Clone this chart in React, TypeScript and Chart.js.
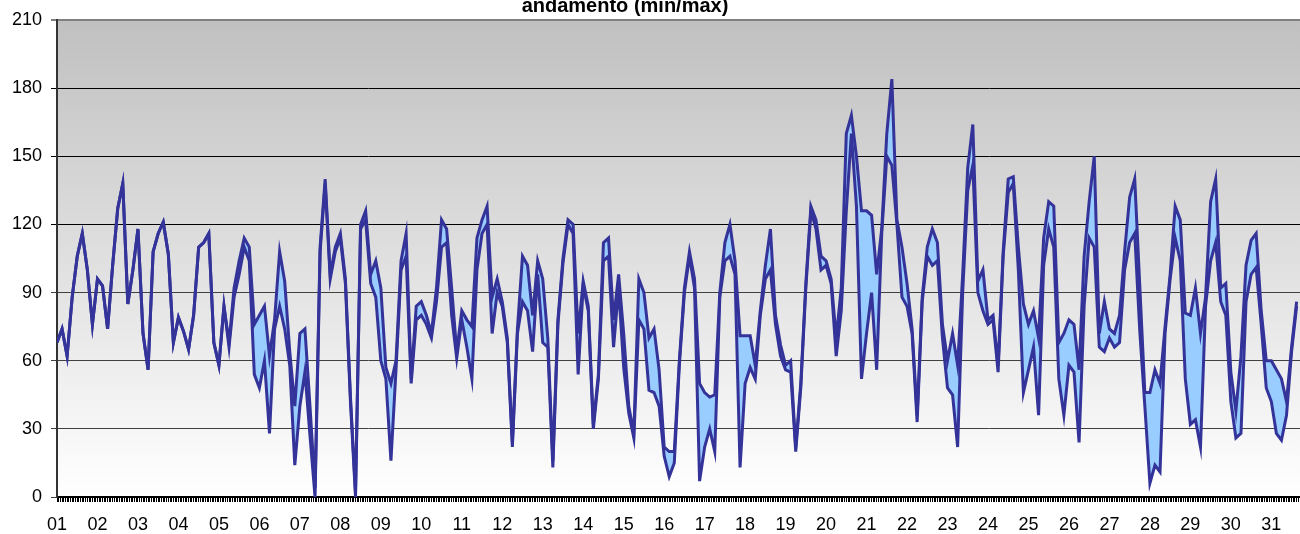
import { useEffect, useRef } from 'react';
import { Chart, registerables } from 'chart.js';

Chart.register(...registerables);

const TITLE = 'andamento (min/max)';

const dayLabels = [
  '01', '02', '03', '04', '05', '06', '07', '08', '09', '10',
  '11', '12', '13', '14', '15', '16', '17', '18', '19', '20',
  '21', '22', '23', '24', '25', '26', '27', '28', '29', '30', '31',
];

const yTickValues = [0, 30, 60, 90, 120, 150, 180, 210];

// one sample every 3 hours, starting at day 01 00:00
const SAMPLE_STEP_HOURS = 3;
const TOTAL_HOURS = 737;

const maxValues = [
  68, 74, 62, 88, 106, 116, 100, 76,
  96, 93, 74, 102, 127, 138, 85, 100,
  118, 72, 56, 108, 116, 121, 107, 68,
  79, 73, 65, 80, 110, 112, 116, 68,
  58, 84, 68, 92, 104, 114, 110, 76,
  80, 84, 62, 78, 108, 95, 64, 40,
  72, 74, 40, 4, 110, 140, 98, 110,
  116, 96, 44, 2, 120, 126, 98, 104,
  92, 57, 50, 60, 104, 116, 52, 84,
  86, 80, 72, 92, 122, 118, 92, 64,
  82, 78, 75, 114, 122, 128, 88, 96,
  86, 70, 24, 74, 106, 102, 80, 104,
  96, 70, 16, 78, 105, 122, 120, 72,
  95, 84, 32, 54, 112, 114, 78, 98,
  72, 40, 28, 96, 90, 70, 74, 56,
  22, 20, 20, 60, 92, 108, 96, 50,
  46, 44, 45, 90, 112, 120, 104, 71,
  71, 71, 58, 82, 102, 118, 80, 67,
  58, 60, 22, 50, 94, 128, 122, 106,
  104, 96, 70, 92, 160, 168, 150, 126,
  126, 124, 98, 118, 160, 184, 122, 110,
  94, 74, 36, 88, 110, 118, 112, 76,
  60, 72, 58, 98, 145, 164, 95, 100,
  78, 80, 58, 108, 140, 141, 110, 85,
  76, 82, 70, 114, 130, 128, 68, 72,
  78, 76, 56, 106, 130, 150, 72, 86,
  74, 72, 80, 108, 132, 140, 93, 46,
  46, 56, 50, 75, 98, 128, 122, 81,
  80, 92, 72, 88, 130, 140, 92, 94,
  55, 38, 62, 102, 113, 116, 82, 60,
  60, 56, 52, 42, 66, 86,
];

const minValues = [
  68, 74, 62, 88, 106, 116, 100, 76,
  96, 93, 74, 102, 127, 138, 85, 100,
  118, 72, 56, 108, 116, 121, 107, 68,
  79, 73, 65, 80, 110, 112, 116, 68,
  58, 84, 66, 88, 98, 110, 104, 54,
  48, 60, 28, 74, 84, 74, 58, 14,
  40, 55, 27, 0, 108, 138, 96, 108,
  114, 94, 42, 0, 118, 122, 94, 88,
  60, 52, 16, 56, 100, 106, 50, 78,
  80, 76, 70, 86, 110, 112, 80, 61,
  78, 66, 52, 100, 116, 120, 72, 90,
  84, 68, 22, 72, 86, 82, 64, 98,
  68, 66, 13, 76, 103, 120, 116, 54,
  93, 82, 30, 52, 104, 106, 66, 92,
  57, 37, 26, 78, 74, 47, 46, 40,
  18, 9, 15, 58, 90, 106, 92, 7,
  22, 30, 20, 88, 104, 106, 98, 13,
  50, 57, 52, 80, 96, 100, 76, 62,
  56, 55, 20, 48, 92, 126, 118, 100,
  102, 94, 62, 82, 126, 160, 128, 52,
  72, 90, 56, 116, 150, 146, 120, 88,
  84, 72, 33, 86, 106, 102, 104, 70,
  48, 45, 22, 90, 135, 146, 90, 82,
  76, 78, 55, 106, 134, 138, 100, 46,
  56, 66, 36, 102, 118, 110, 52, 36,
  58, 55, 24, 84, 114, 110, 66, 64,
  70, 66, 68, 100, 112, 116, 73, 40,
  6, 14, 11, 72, 96, 114, 104, 52,
  32, 34, 22, 84, 104, 112, 86, 80,
  42, 26, 28, 86, 98, 101, 76, 48,
  42, 28, 25, 36, 64, 84,
];

const FONT = '"Liberation Sans", Arial, sans-serif';

export default function App() {
  const canvasRef = useRef<HTMLCanvasElement | null>(null);

  useEffect(() => {
    const canvas = canvasRef.current;
    if (!canvas) return;

    const toPoints = (arr: number[]) =>
      arr.map((y, i) => ({ x: i * SAMPLE_STEP_HOURS, y }));

    const backgroundPlugin = {
      id: 'plotBackground',
      beforeDraw(chart: any) {
        const { ctx, chartArea: a } = chart;
        if (!a) return;
        const g = ctx.createLinearGradient(0, a.top, 0, a.bottom);
        g.addColorStop(0, '#c0c0c0');
        g.addColorStop(1, '#ffffff');
        ctx.save();
        ctx.fillStyle = g;
        ctx.fillRect(a.left, a.top, a.right - a.left, a.bottom - a.top);
        ctx.restore();
      },
    };

    const titlePlugin = {
      id: 'clippedTitle',
      afterDraw(chart: any) {
        const { ctx } = chart;
        ctx.save();
        ctx.font = `bold 20px ${FONT}`;
        ctx.fillStyle = '#000';
        ctx.textAlign = 'center';
        ctx.textBaseline = 'alphabetic';
        ctx.fillText(TITLE, 625, 12);
        ctx.restore();
      },
    };

    const chart = new Chart(canvas, {
      type: 'line',
      data: {
        datasets: [
          {
            label: 'max',
            data: toPoints(maxValues),
            borderColor: '#333399',
            borderWidth: 3,
            pointRadius: 0,
            pointHoverRadius: 0,
            tension: 0,
            fill: '+1',
            backgroundColor: '#99ccff',
          },
          {
            label: 'min',
            data: toPoints(minValues),
            borderColor: '#333399',
            borderWidth: 3,
            pointRadius: 0,
            pointHoverRadius: 0,
            tension: 0,
            fill: false,
          },
        ],
      },
      options: {
        animation: false,
        responsive: false,
        maintainAspectRatio: false,
        layout: { autoPadding: false, padding: { top: 20, left: 0, right: 0, bottom: 0 } },
        plugins: {
          legend: { display: false },
          tooltip: { enabled: false },
          filler: { drawTime: 'beforeDatasetsDraw' },
        } as any,
        scales: {
          x: {
            type: 'linear',
            min: 0,
            max: TOTAL_HOURS,
            afterFit: (s: any) => {
              s.height = 37;
              s.paddingRight = 0;
              s.paddingLeft = 0;
            },
            afterBuildTicks: (s: any) => {
              const t = [];
              for (let h = 0; h <= TOTAL_HOURS; h++) t.push({ value: h });
              s.ticks = t;
            },
            ticks: {
              autoSkip: false,
              maxRotation: 0,
              minRotation: 0,
              padding: 12,
              color: '#000',
              font: { family: FONT, size: 18 },
              callback: (v: any) => {
                const n = Number(v);
                return n % 24 === 0 ? dayLabels[n / 24] ?? '' : '';
              },
            },
            grid: {
              drawOnChartArea: false,
              drawTicks: true,
              tickLength: 5,
              color: '#000',
              lineWidth: 1,
            },
            border: { display: true, color: '#000', width: 2 },
          },
          y: {
            min: 0,
            max: 210,
            afterFit: (s: any) => {
              s.width = 57;
            },
            afterBuildTicks: (s: any) => {
              s.ticks = yTickValues.map((v) => ({ value: v }));
            },
            ticks: {
              padding: 9,
              color: '#000',
              font: { family: FONT, size: 18 },
            },
            grid: {
              drawTicks: true,
              tickLength: 6,
              color: (c: any) =>
                c.tick && c.tick.value === 210
                  ? '#808080'
                  : c.tick && c.tick.value >= 120
                  ? '#000000'
                  : '#404040',
              lineWidth: (c: any) => (c.tick && c.tick.value === 210 ? 2 : 1),
            },
            border: { display: true, color: '#333', width: 2 },
          },
        },
      },
      plugins: [backgroundPlugin, titlePlugin],
    });

    return () => chart.destroy();
  }, []);

  return (
    <div style={{ position: 'fixed', left: 0, top: 0, width: 1300, height: 534, background: '#fff' }}>
      <canvas ref={canvasRef} width={1300} height={534} style={{ display: 'block' }} />
    </div>
  );
}
